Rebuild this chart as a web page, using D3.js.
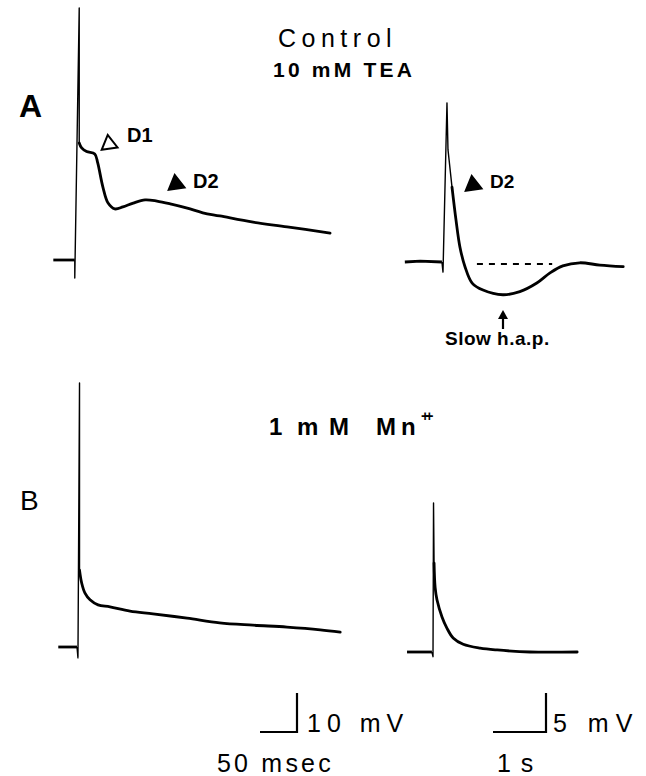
<!DOCTYPE html>
<html>
<head>
<meta charset="utf-8">
<script src="https://cdn.jsdelivr.net/npm/d3@7"></script>
<style>
  body { margin: 0; background: #fff; }
  svg { display: block; }
</style>
</head>
<body>
<div id="chart"></div>
<script>
// A, control in 10 mM TEA, fast sweep (ms, mV)
const tA1 = [-32, -3, -3, 3, 3, 6, 13, 24, 28, 35, 42, 51, 62, 76, 92, 108, 126, 149, 170, 193, 238, 284, 342]
const vA1 = [0, 0, -4.6, 64.6, 30, 28.8, 27.8, 27.2, 24.9, 18.7, 14.6, 13.1, 13.6, 14.6, 15.4, 15.1, 14.4, 13.3, 12.1, 11.3, 9.7, 8.5, 6.9]

// A, slow sweep (s, mV)
const tA2 = [-0.72, -0.43, -0.02, 0, 0.075, 0.094, 0.17, 0.245, 0.32, 0.415, 0.55, 0.755, 1.13, 1.45, 1.77, 2.02, 2.26, 2.58, 2.96, 3.4]
const vA2 = [0, 0.1, 0, -1.3, 20.4, 14.4, 9.6, 5.4, 1.9, -0.6, -2.7, -3.6, -4.2, -3.8, -2.7, -1.4, -0.5, -0.1, -0.4, -0.6]

// B, 1 mM Mn++, fast sweep (ms, mV)
const tB1 = [-28, -2.7, -1.4, 0.7, 0.7, 3.6, 8.1, 14.9, 25.7, 41.9, 68.9, 100, 146, 190, 235, 281, 326, 353]
const vB1 = [0, 0, -2.8, 67.7, 19.7, 16.4, 13.8, 12.1, 10.8, 10.3, 9.2, 8.5, 7.4, 6.2, 5.6, 5.1, 4.4, 3.8]

// B, slow sweep (s, mV)
const tB2 = [-0.49, -0.02, 0, 0.01, 0.02, 0.04, 0.075, 0.17, 0.26, 0.38, 0.57, 0.89, 1.21, 1.83, 2.72]
const vB2 = [0, 0, -0.6, 19.1, 11.4, 8.3, 6.7, 4.5, 3.1, 1.8, 1.0, 0.5, 0.26, 0, 0]

// dashed resting level on the slow A sweep (s, mV)
const restA2 = { t: [0.64, 2.06], v: -0.25 }

// scale bars
const barTimes = [50, 1]
const barTimeLabels = ["50 msec", "1 s"]
const barVolts = [10, 5]
const barVoltLabels = ["10 mV", "5 mV"]

const width = 646
const height = 776
const font = "'Liberation Sans', Arial, Helvetica, sans-serif"

const svg = d3
  .select("#chart")
  .append("svg")
  .attr("width", width)
  .attr("height", height)
  .style("background", "#fff")

// each sweep gets its own origin; fast sweeps 37 px / 50 ms, 39 px / 10 mV
// slow sweeps 53 px / 1 s, 39 px / 5 mV
function fastScales(x0, y0) {
  return {
    x: d3.scaleLinear().domain([0, 50]).range([x0, x0 + 37]),
    y: d3.scaleLinear().domain([0, 10]).range([y0, y0 - 39]),
  }
}
function slowScales(x0, y0) {
  return {
    x: d3.scaleLinear().domain([0, 1]).range([x0, x0 + 53]),
    y: d3.scaleLinear().domain([0, 5]).range([y0, y0 - 39]),
  }
}

const sweeps = [
  { t: tA1, v: vA1, s: fastScales(77, 260), thin: [1, 4] },
  { t: tA2, v: vA2, s: slowScales(443, 262), thin: [2, 6] },
  { t: tB1, v: vB1, s: fastScales(79, 647), thin: [1, 4] },
  { t: tB2, v: vB2, s: slowScales(433, 652), thin: [1, 4] },
]

sweeps.forEach((sw) => {
  const pts = sw.t.map((t, i) => [sw.s.x(t), sw.s.y(sw.v[i])])
  const line = d3.line().curve(d3.curveCatmullRom.alpha(0.5))
  const straight = d3.line()
  // baseline before the spike
  svg
    .append("path")
    .attr("d", straight(pts.slice(0, sw.thin[0] + 1)))
    .attr("fill", "none")
    .attr("stroke", "#000")
    .attr("stroke-width", 2.8)
  // spike (thin)
  svg
    .append("path")
    .attr("d", straight(pts.slice(sw.thin[0], sw.thin[1] + 1)))
    .attr("fill", "none")
    .attr("stroke", "#000")
    .attr("stroke-width", 1.4)
    .attr("stroke-linejoin", "round")
  // decay
  svg
    .append("path")
    .attr("d", line(pts.slice(sw.thin[1])))
    .attr("fill", "none")
    .attr("stroke", "#000")
    .attr("stroke-width", 2.8)
    .attr("stroke-linejoin", "round")
    .attr("stroke-linecap", "round")
})

// dashed rest line
const sA2 = sweeps[1].s
svg
  .append("line")
  .attr("x1", sA2.x(restA2.t[0]))
  .attr("x2", sA2.x(restA2.t[1]))
  .attr("y1", sA2.y(restA2.v))
  .attr("y2", sA2.y(restA2.v))
  .attr("stroke", "#000")
  .attr("stroke-width", 2)
  .attr("stroke-dasharray", "6,6")

// markers D1 (open) and D2 (filled)
const tri = d3.symbol().type(d3.symbolTriangle).size(110)
const markers = [
  { x: 109, y: 144, fill: "#fff", label: "D1", lx: 127, ly: 142, size: 20 },
  { x: 176, y: 184, fill: "#000", label: "D2", lx: 193, ly: 188, size: 20 },
  { x: 473, y: 185, fill: "#000", label: "D2", lx: 490, ly: 188, size: 19 },
]
markers.forEach((m) => {
  svg
    .append("path")
    .attr("d", tri())
    .attr("transform", `translate(${m.x},${m.y}) rotate(232)`)
    .attr("fill", m.fill)
    .attr("stroke", "#000")
    .attr("stroke-width", 2)
  svg
    .append("text")
    .attr("x", m.lx)
    .attr("y", m.ly)
    .attr("font-family", font)
    .attr("font-weight", "bold")
    .attr("font-size", m.size)
    .text(m.label)
})

// arrow to slow h.a.p.
svg
  .append("line")
  .attr("x1", 503)
  .attr("x2", 503)
  .attr("y1", 329)
  .attr("y2", 317)
  .attr("stroke", "#000")
  .attr("stroke-width", 2.2)
svg
  .append("path")
  .attr("d", "M498,319 L503,310 L508,319 Z")
  .attr("fill", "#000")

const texts = [
  { x: 19, y: 117, t: "A", size: 32, w: "bold", ls: 0 },
  { x: 20, y: 510, t: "B", size: 28, w: "normal", ls: 0 },
  { x: 278, y: 47, t: "Control", size: 25, w: "normal", ls: 5.5 },
  { x: 273, y: 77, t: "10 mM TEA", size: 21, w: "bold", ls: 3.2 },
  { x: 445, y: 345, t: "Slow h.a.p.", size: 19, w: "bold", ls: 0.5 },
  { x: 307, y: 732, t: barVoltLabels[0], size: 25, w: "normal", ls: 6 },
  { x: 217, y: 772, t: barTimeLabels[0], size: 25, w: "normal", ls: 3.2 },
  { x: 553, y: 732, t: barVoltLabels[1], size: 25, w: "normal", ls: 7 },
  { x: 497, y: 772, t: barTimeLabels[1], size: 25, w: "normal", ls: 1.5 },
]
texts.forEach((d) => {
  svg
    .append("text")
    .attr("x", d.x)
    .attr("y", d.y)
    .attr("font-family", font)
    .attr("font-weight", d.w)
    .attr("font-size", d.size)
    .attr("letter-spacing", d.ls)
    .text(d.t)
})

// "1 mM Mn++" with the wide typewriter-like gaps of the original
const mn = svg
  .append("text")
  .attr("y", 435)
  .attr("font-family", font)
  .attr("font-weight", "bold")
  .attr("font-size", 24)
mn.append("tspan").attr("x", 269).text("1")
mn.append("tspan").attr("x", 297).text("m")
mn.append("tspan").attr("x", 329).text("M")
mn.append("tspan").attr("x", 376).attr("letter-spacing", 5).text("Mn")
mn.append("tspan")
  .attr("x", 421)
  .attr("dy", -14)
  .attr("font-size", 14)
  .attr("letter-spacing", -4)
  .text("++")

// scale bars: corner at (297, 732) and (546, 732)
const barCorners = [
  { x: 297, y: 732, s: sweeps[2].s },
  { x: 546, y: 732, s: sweeps[3].s },
]
barCorners.forEach((c, i) => {
  const w = c.s.x(barTimes[i]) - c.s.x(0)
  const h = c.s.y(0) - c.s.y(barVolts[i])
  svg
    .append("path")
    .attr("d", `M${c.x - w},${c.y} L${c.x},${c.y} L${c.x},${c.y - h}`)
    .attr("fill", "none")
    .attr("stroke", "#000")
    .attr("stroke-width", 2.2)
})
</script>
</body>
</html>
